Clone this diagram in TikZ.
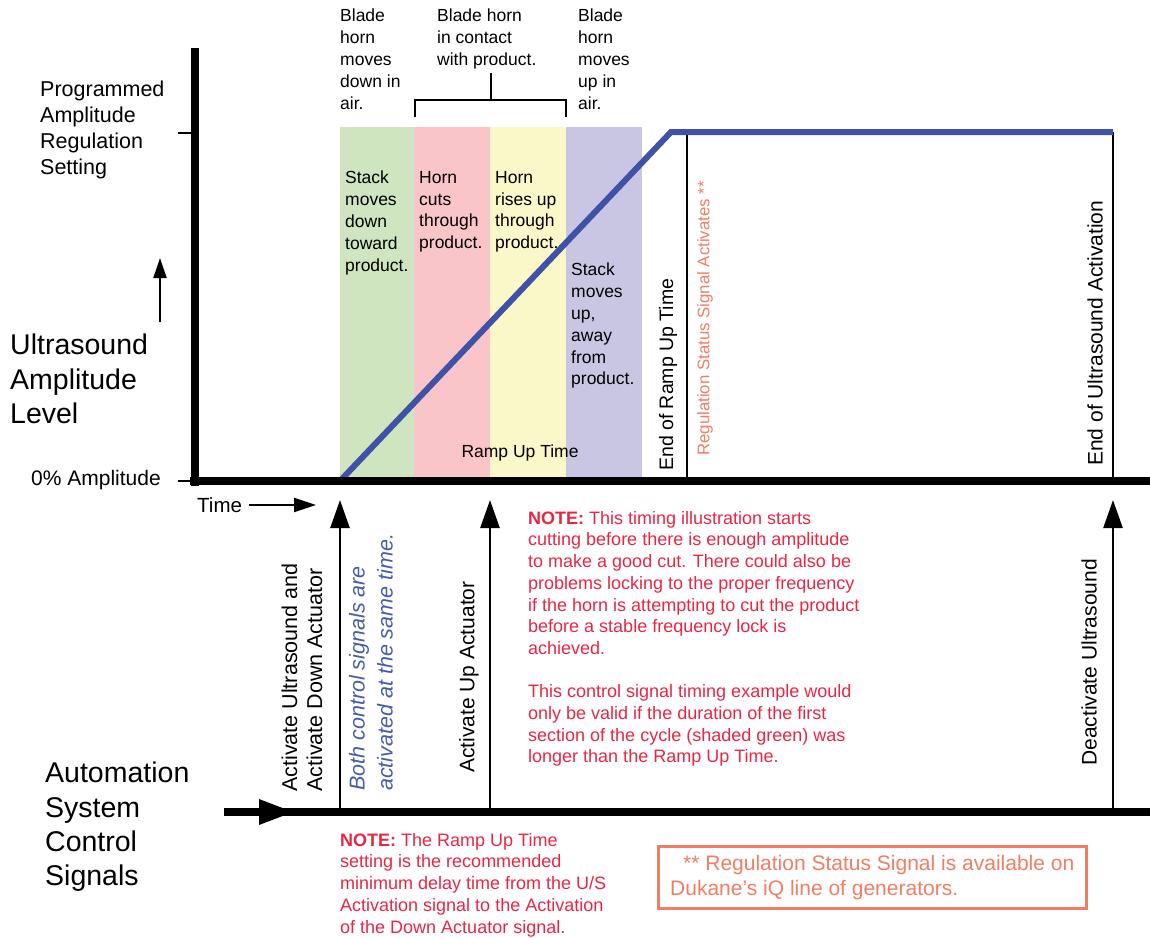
\documentclass[tikz,border=0pt]{standalone}
\usepackage{fontspec}
\setmainfont{Liberation Sans}
\usetikzlibrary{arrows.meta}
\definecolor{bgreen}{RGB}{207,229,192}
\definecolor{bpink}{RGB}{249,197,200}
\definecolor{byellow}{RGB}{250,247,200}
\definecolor{bpurple}{RGB}{201,198,227}
\definecolor{rampblue}{RGB}{63,82,168}
\definecolor{notered}{RGB}{232,38,68}
\definecolor{salmon}{RGB}{240,125,100}
\definecolor{itblue}{RGB}{72,92,172}
\begin{document}
\begin{tikzpicture}[x=1pt,y=-1pt,
  txt/.style={inner sep=0pt, align=left, anchor=north west},
  sm/.style={font=\fontsize{17.5}{21.8}\selectfont},
  mid/.style={font=\fontsize{21}{26}\selectfont},
  big/.style={font=\fontsize{28.5}{34.2}\selectfont},
  note/.style={txt, text=notered, font=\fontsize{18}{21.7}\selectfont},
  rot/.style={inner sep=0pt, rotate=90, anchor=west, align=left},
  axis/.style={line width=8pt},
  thin/.style={line width=2.5pt},
  sig/.style={line width=2.5pt, -{Triangle[length=28pt,width=19pt]}},
]
\useasboundingbox (0,0) rectangle (1150,937);

% colored bands
\fill[bgreen]  (340,127) rectangle (414,478);
\fill[bpink]   (414,127) rectangle (490,478);
\fill[byellow] (490,127) rectangle (566,478);
\fill[bpurple] (566,127) rectangle (642,478);

% coordinates
\coordinate (o) at (195,481);
\coordinate (ytop) at (195,48);
\coordinate (xend) at (1150,481);
\coordinate (r0) at (340,481);
\coordinate (rtop) at (671,132);
\coordinate (rend) at (1113,132);
\coordinate (eramp) at (687,132);
\coordinate (erampb) at (687,481);
\coordinate (eus) at (1113,481);

% thin vertical markers
\draw[thin] (eramp) -- (erampb);
\draw[thin] (rend) -- (eus);

% amplitude ramp
\draw[rampblue, line width=6pt, line join=miter] (r0) -- (rtop) -- (rend);

% axes
\draw[axis] (ytop) -- (195,486);
\draw[axis] (190,481) -- (xend);
\draw[line width=2pt] (178,133) -- (195,133);
\draw[line width=2pt] (178,481) -- (195,481);

% bracket
\coordinate (bl) at (415,117);
\coordinate (br) at (566,117);
\coordinate (bs) at (491,73);
\draw[thin] (bl) -- (415,100) -- (566,100) -- (br);
\draw[thin] (bs) -- (491,100);

% top labels
\node[txt, sm] (t1) at (340,9) {Blade\\horn\\moves\\down in\\air.};
\node[txt, sm] (t2) at (437,9) {Blade horn\\in contact\\with product.};
\node[txt, sm] (t3) at (578,9) {Blade\\horn\\moves\\up in\\air.};

% band labels
\node[txt, sm] (b1) at (345,171) {Stack\\moves\\down\\toward\\product.};
\node[txt, sm] (b2) at (419,171) {Horn\\cuts\\through\\product.};
\node[txt, sm] (b3) at (495,171) {Horn\\rises up\\through\\product.};
\node[txt, sm] (b4) at (571,263) {Stack\\moves\\up,\\away\\from\\product.};
\node[inner sep=0pt, sm] (rut) at (520,453) {Ramp Up Time};

% left labels
\node[txt, font=\fontsize{21.5}{26}\selectfont] (prog) at (40,81) {Programmed\\Amplitude\\Regulation\\Setting};
\node[txt, big] (ual) at (10,334) {Ultrasound\\Amplitude\\Level};
\node[inner sep=0pt, anchor=east, font=\fontsize{21}{25}\selectfont] (zero) at (161,480) {0\% Amplitude};
\node[txt, big] (ascs) at (45,762) {Automation\\System\\Control\\Signals};
\coordinate (ua1) at (160,322);
\coordinate (ua2) at (160,258);
\draw[line width=2.2pt, -{Triangle[length=20pt,width=13pt]}] (ua1) -- (ua2);

% time label
\node[inner sep=0pt, anchor=west, font=\fontsize{20.5}{24}\selectfont] (time) at (197,505) {Time};
\coordinate (ta) at (316,505);
\draw[line width=2pt, -{Triangle[length=22pt,width=14pt]}] (time.east) ++(7,0) -- (ta);

% rotated labels in upper chart
\node[rot, font=\fontsize{19.5}{24}\selectfont] (erl) at (668,471) {End of Ramp Up Time};
\node[rot, text=salmon, font=\fontsize{16.8}{20}\selectfont] (rss) at (705,456) {Regulation Status Signal Activates **};
\node[rot, font=\fontsize{21}{24}\selectfont] (eua) at (1095,466) {End of Ultrasound Activation};

% control signal axis
\coordinate (ca0) at (224,812);
\coordinate (caend) at (1150,812);
\draw[axis] (ca0) -- (caend);
\fill (259,799) -- (293,812) -- (259,825) -- cycle;

% control signal arrows
\coordinate (s1b) at (340,812);
\coordinate (s1t) at (340,500);
\coordinate (s2b) at (490,812);
\coordinate (s2t) at (490,500);
\coordinate (s3b) at (1113,812);
\coordinate (s3t) at (1113,500);
\draw[sig] (s1b) -- (s1t);
\draw[sig] (s2b) -- (s2t);
\draw[sig] (s3b) -- (s3t);

\node[rot, font=\fontsize{21.5}{25}\selectfont] (aus) at (302,792) {Activate Ultrasound and\\Activate Down Actuator};
\node[rot, text=itblue, font=\fontsize{21.5}{28}\selectfont\itshape] (both) at (371,791) {Both control signals are\\activated at the same time.};
\node[rot, font=\fontsize{21}{25}\selectfont] (aua) at (469,773) {Activate Up Actuator};
\node[rot, font=\fontsize{21}{25}\selectfont] (dus) at (1089,766) {Deactivate Ultrasound};

% notes
\node[note] (n1) at (528,511) {\textbf{NOTE:} This timing illustration starts\\cutting before there is enough amplitude\\to make a good cut. There could also be\\problems locking to the proper frequency\\if the horn is attempting to cut the product\\before a stable frequency lock is\\achieved.\\[21.7pt]This control signal timing example would\\only be valid if the duration of the first\\section of the cycle (shaded green) was\\longer than the Ramp Up Time.};
\node[note] (n2) at (340,833) {\textbf{NOTE:} The Ramp Up Time\\setting is the recommended\\minimum delay time from the U/S\\Activation signal to the Activation\\of the Down Actuator signal.};

% footnote box
\node[draw=salmon, line width=2.5pt, text=salmon, align=left, anchor=north west,
      minimum width=428pt, minimum height=62pt, inner xsep=10pt, inner ysep=5pt,
      font=\fontsize{21}{25}\selectfont] (box) at (657,845)
  {\hspace*{13pt}** Regulation Status Signal is available on\\Dukane’s iQ line of generators.};
\end{tikzpicture}
\end{document}
